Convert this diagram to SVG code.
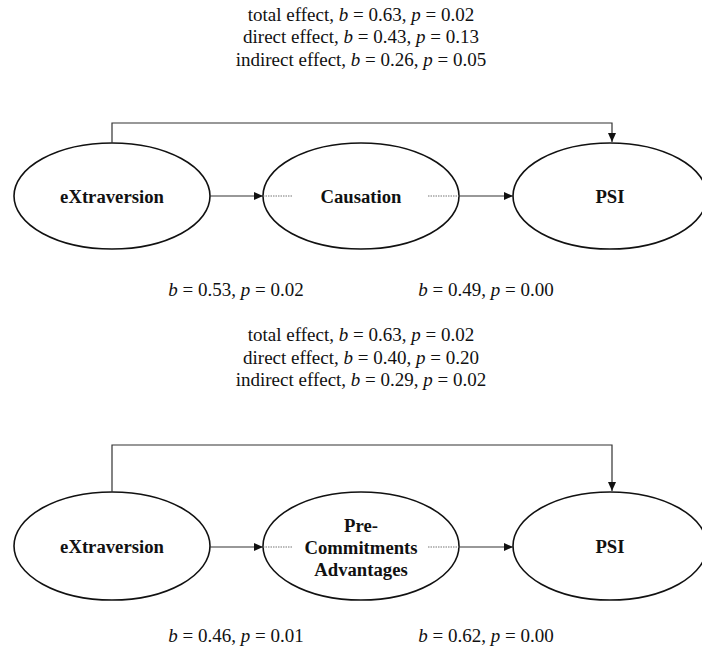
<svg xmlns="http://www.w3.org/2000/svg" width="702" height="652" viewBox="0 0 702 652">
<style>
.node ellipse{fill:#fff;stroke:#111;stroke-width:1.6}
.lbl{font-family:"Liberation Serif","Times New Roman",serif;font-weight:bold;font-size:18.7px;fill:#111;text-anchor:middle}
.txt{font-family:"Liberation Serif","Times New Roman",serif;font-size:19px;fill:#111;text-anchor:middle}
.it{font-style:italic}
.conn{fill:none;stroke:#333;stroke-width:1.2}
.dot{fill:none;stroke:#777;stroke-width:1.2;stroke-dasharray:1.5 1}
</style>
<defs>
<marker id="ah" markerWidth="9" markerHeight="8" refX="9" refY="4" orient="auto" markerUnits="userSpaceOnUse">
<path d="M0,0 L9,4 L0,8 Z" fill="#111"/>
</marker>
</defs>
<rect width="702" height="652" fill="#fff"/>
<g id="stats-top">
<text class="txt" x="361" y="21">total effect, <tspan class="it">b</tspan> = 0.63, <tspan class="it">p</tspan> = 0.02</text>
<text class="txt" x="361" y="43">direct effect, <tspan class="it">b</tspan> = 0.43, <tspan class="it">p</tspan> = 0.13</text>
<text class="txt" x="361" y="66">indirect effect, <tspan class="it">b</tspan> = 0.26, <tspan class="it">p</tspan> = 0.05</text>
<text class="txt" x="236" y="296"><tspan class="it">b</tspan> = 0.53, <tspan class="it">p</tspan> = 0.02</text>
<text class="txt" x="486" y="296"><tspan class="it">b</tspan> = 0.49, <tspan class="it">p</tspan> = 0.00</text>
</g>
<g id="stats-bottom">
<text class="txt" x="361" y="341">total effect, <tspan class="it">b</tspan> = 0.63, <tspan class="it">p</tspan> = 0.02</text>
<text class="txt" x="361" y="364">direct effect, <tspan class="it">b</tspan> = 0.40, <tspan class="it">p</tspan> = 0.20</text>
<text class="txt" x="361" y="386">indirect effect, <tspan class="it">b</tspan> = 0.29, <tspan class="it">p</tspan> = 0.02</text>
<text class="txt" x="236" y="642"><tspan class="it">b</tspan> = 0.46, <tspan class="it">p</tspan> = 0.01</text>
<text class="txt" x="486" y="642"><tspan class="it">b</tspan> = 0.62, <tspan class="it">p</tspan> = 0.00</text>
</g>
<g id="n1" class="node"><ellipse cx="112" cy="196" rx="98" ry="53"/><text class="lbl" x="112" y="203">eXtraversion</text></g>
<g id="n2" class="node"><ellipse cx="361" cy="196" rx="98" ry="53"/><text class="lbl" x="361" y="203">Causation</text></g>
<g id="n3" class="node"><ellipse cx="610" cy="196" rx="97" ry="53"/><text class="lbl" x="610" y="203">PSI</text></g>
<g id="n4" class="node"><ellipse cx="112" cy="546" rx="98" ry="54"/><text class="lbl" x="112" y="553">eXtraversion</text></g>
<g id="n5" class="node"><ellipse cx="361" cy="546" rx="98" ry="54"/><text class="lbl" x="361" y="532">Pre-</text><text class="lbl" x="361" y="554">Commitments</text><text class="lbl" x="361" y="576">Advantages</text></g>
<g id="n6" class="node"><ellipse cx="610" cy="546" rx="97" ry="54"/><text class="lbl" x="610" y="553">PSI</text></g>
<g id="connectors">
<path class="conn" d="M112,143 V123 H612 V142" marker-end="url(#ah)"/>
<path class="conn" d="M210,196 H263" marker-end="url(#ah)"/>
<path class="dot" d="M263,196 H293"/>
<path class="dot" d="M428,196 H459"/>
<path class="conn" d="M459,196 H513" marker-end="url(#ah)"/>
<path class="conn" d="M112,492 V445 H612 V491" marker-end="url(#ah)"/>
<path class="conn" d="M210,547 H263" marker-end="url(#ah)"/>
<path class="dot" d="M263,547 H293"/>
<path class="dot" d="M428,547 H459"/>
<path class="conn" d="M459,547 H513" marker-end="url(#ah)"/>
</g>
</svg>
